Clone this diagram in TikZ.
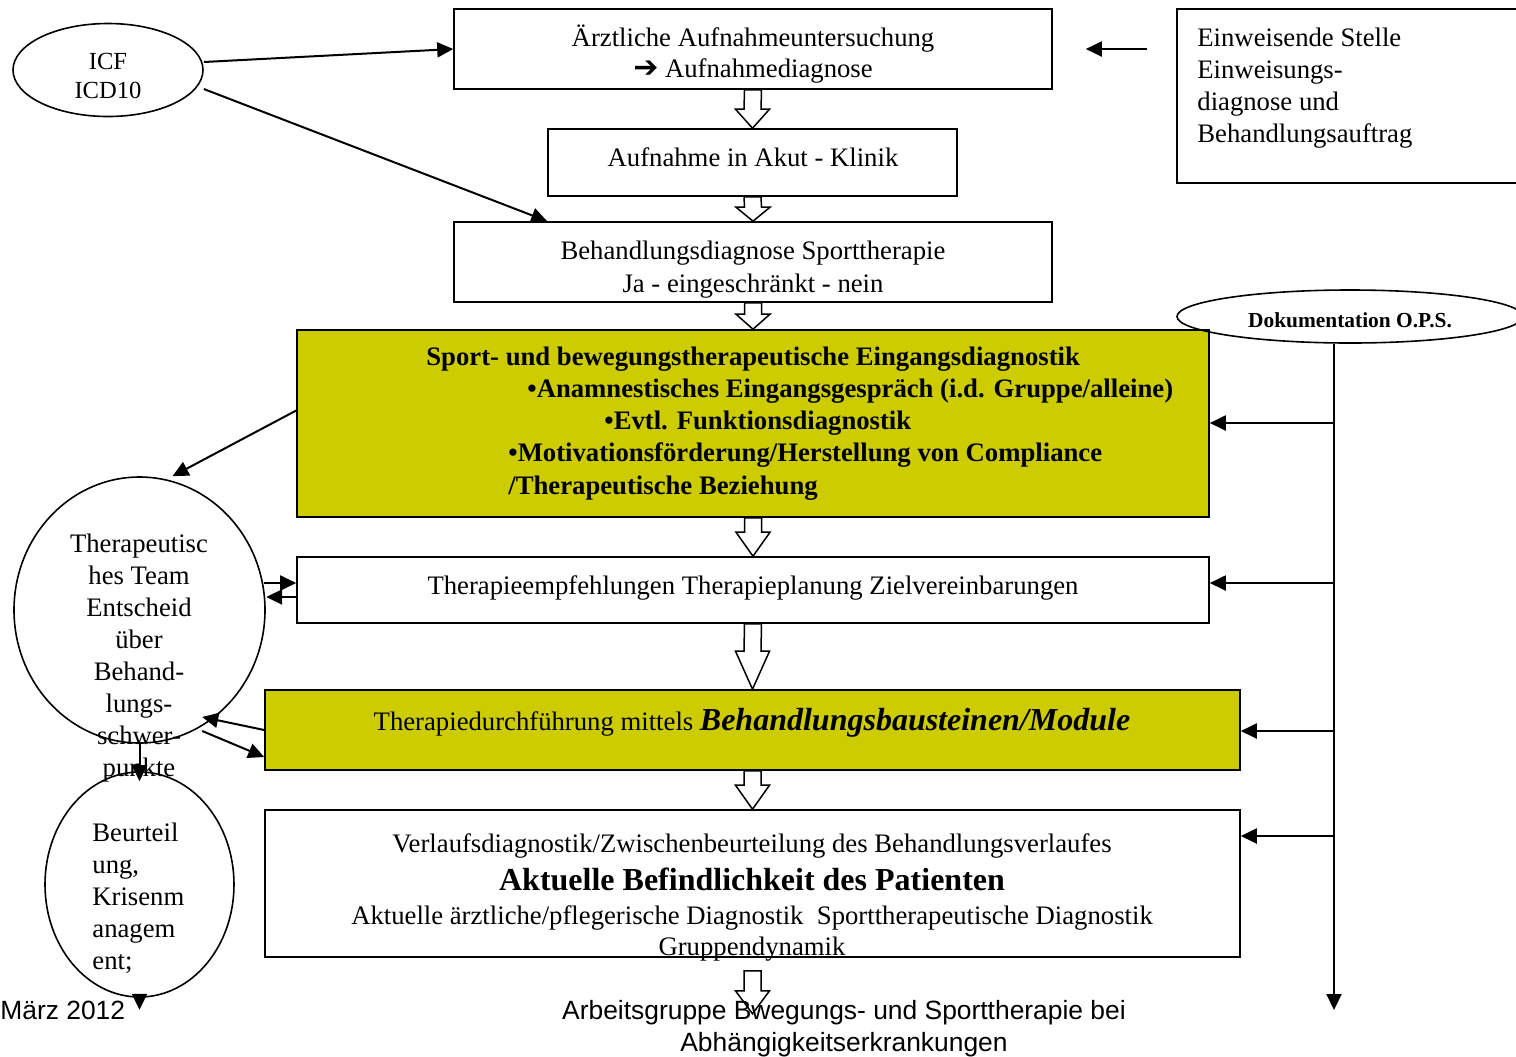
\documentclass[tikz,border=0pt]{standalone}
\usepackage{fontspec}
\setmainfont{Liberation Serif}
\setsansfont{Liberation Sans}
\newfontfamily\djv{DejaVu Sans}
\usetikzlibrary{shapes.geometric,arrows.meta,calc}
\definecolor{boxgreen}{RGB}{204,204,0}
\newcommand\blockarr[3]{%
  \draw[hollow] ($(#1)+(-8.5,0)$) -- ($(#2)+(-8.5,-#3)$) -- ($(#2)+(-17,-#3)$) -- (#2)
    -- ($(#2)+(17,-#3)$) -- ($(#2)+(8.5,-#3)$) -- ($(#1)+(8.5,0)$) -- cycle;}
\begin{document}
\begin{tikzpicture}[x=0.5pt,y=-0.5pt,
  box/.style={draw,line width=0.8pt,inner sep=0pt},
  gbox/.style={box,fill=boxgreen},
  ell/.style={draw,ellipse,line width=0.8pt,inner sep=0pt},
  txt/.style={inner sep=0pt,font=\fontsize{13.35}{16}\selectfont,align=center},
  gtxt/.style={inner sep=0pt,font=\fontsize{13.35}{16}\selectfont\bfseries,anchor=base west},
  sans/.style={inner sep=0pt,font=\sffamily\fontsize{13.2}{16}\selectfont},
  conn/.style={line width=1pt,-{Triangle[length=8pt,width=7.5pt]}},
  hollow/.style={draw,fill=white,line width=0.75pt,line join=miter}]
\useasboundingbox (0,0) rectangle (1516,1056);

% boxes
\node[box,minimum width=299pt,minimum height=40pt] (b1) at (753,49) {};
\node[box,minimum width=204.5pt,minimum height=33.5pt] (b2) at (752.5,162.5) {};
\node[box,minimum width=299pt,minimum height=40pt] (b3) at (753,262) {};
\node[gbox,minimum width=456pt,minimum height=93.5pt] (g1) at (753,423.5) {};
\node[box,minimum width=456pt,minimum height=33pt] (b5) at (753,590) {};
\node[gbox,minimum width=487.5pt,minimum height=40pt] (g2) at (752.5,730) {};
\node[box,minimum width=487.5pt,minimum height=73.5pt] (b7) at (752.5,883.5) {};
\node[box,minimum width=174pt,minimum height=87pt] (ein) at (1351,96) {};

% ellipses
\node[ell,minimum width=95pt,minimum height=46.5pt] (icf) at (108,70) {};
\node[ell,minimum width=125.5pt,minimum height=133pt] (team) at (139.5,610) {};
\node[ell,minimum width=94.5pt,minimum height=112.5pt] (beu) at (139.5,884.5) {};
\node[ell,minimum width=173pt,minimum height=26.5pt] (dok) at (1350,316.5) {};

% block arrows
\blockarr{b1.south}{b2.north}{19}
\blockarr{b2.south}{b3.north}{14}
\blockarr{b3.south}{g1.north}{15}
\blockarr{g1.south}{b5.north}{24}
\blockarr{b5.south}{g2.north}{38}
\blockarr{g2.south}{b7.north}{24}
\coordinate (btop) at ($(b7.south)+(0,13)$);
\coordinate (btip) at ($(b7.south)+(0,56)$);
\blockarr{btop}{btip}{23}

% connectors
\draw[conn] ($(icf.east)+(0,-8)$) -- (b1.west);
\draw[conn] ($(icf.east)+(0,19)$) -- ($(b3.north west)+(94,0)$);
\coordinate (e1) at ($(b1.east)+(94,0)$);
\coordinate (e2) at ($(b1.east)+(33,0)$);
\draw[conn] (e1) -- (e2);
\draw[conn] ($(g1.west)+(0,-13)$) -- ($(team.north)+(33,0)$);
\draw[conn] ($(b5.west)+(-32,-7)$) -- ($(b5.west)+(0,-7)$);
\draw[conn] ($(b5.west)+(0,7)$) -- ($(b5.west)+(-30,7)$);
\draw[conn] (g2.west) -- ($(g2.west)+(-62,-13)$);
\draw[conn] ($(g2.west)+(-62,1)$) -- ($(g2.west)+(0,27)$);
\draw[conn] (team.south) -- ($(beu.north)+(0,10)$);
\draw[conn] (beu.south) -- ++(0,12);

\coordinate (dtop) at ($(dok.south)+(-16,0)$);
\coordinate (dbot) at (1334,1010);
\draw[conn] (dtop) -- (dbot);
\coordinate (d1) at (1334,423);
\coordinate (d2) at (1334,583);
\coordinate (d3) at (1334,731);
\coordinate (d4) at (1334,836);
\draw[conn] (d1) -- (g1.east |- d1);
\draw[conn] (d2) -- (b5.east |- d2);
\draw[conn] (d3) -- (g2.east |- d3);
\draw[conn] (d4) -- (b7.east |- d4);

% texts
\node[inner sep=0pt,font=\fontsize{12.3}{14.5}\selectfont,anchor=base] (ti1) at (108,69) {ICF};
\node[inner sep=0pt,font=\fontsize{12.3}{14.5}\selectfont,anchor=base] (ti2) at (108,98) {ICD10};

\node[txt,anchor=base] (t1a) at (753,46) {Ärztliche Aufnahmeuntersuchung};
\node[txt,anchor=base] (t1b) at (753,77) {{\djv\bfseries\fontsize{15}{16}\selectfont ➔} Aufnahmediagnose};
\node[txt,anchor=base] (t2) at (753,166) {Aufnahme in Akut - Klinik};
\node[txt,anchor=base] (t3a) at (753,259) {Behandlungsdiagnose Sporttherapie};
\node[txt,anchor=base] (t3b) at (753,292) {Ja - eingeschränkt - nein};

\node[gtxt] (g1a) at (426,365) {Sport- und bewegungstherapeutische Eingangsdiagnostik};
\node[gtxt] (g1b) at (527,397) {•Anamnestisches Eingangsgespräch (i.d. Gruppe/alleine)};
\node[gtxt] (g1c) at (604,429) {•Evtl. Funktionsdiagnostik};
\node[gtxt] (g1d) at (508,461) {•Motivationsförderung/Herstellung von Compliance};
\node[gtxt] (g1e) at (508,494) {/Therapeutische Beziehung};

\node[txt,anchor=base] (t5) at (753,594) {Therapieempfehlungen Therapieplanung Zielvereinbarungen};
\node[txt,anchor=base] (t6) at (752,730) {Therapiedurchführung mittels {\bfseries\itshape\fontsize{16}{18}\selectfont Behandlungsbausteinen/Module}};
\node[txt,anchor=base] (t7a) at (752,852) {Verlaufsdiagnostik/Zwischenbeurteilung des Behandlungsverlaufes};
\node[txt,anchor=base,font=\fontsize{16}{18}\selectfont\bfseries] (t7b) at (752,890) {Aktuelle Befindlichkeit des Patienten};
\node[txt,anchor=base] (t7c) at (752,924) {Aktuelle ärztliche/pflegerische Diagnostik~ Sporttherapeutische Diagnostik};
\node[txt,anchor=base] (t7d) at (752,955) {Gruppendynamik};

\node[txt,anchor=base west] (te1) at (1197,46) {Einweisende Stelle};
\node[txt,anchor=base west] (te2) at (1197,78) {Einweisungs-};
\node[txt,anchor=base west] (te3) at (1197,110) {diagnose und};
\node[txt,anchor=base west] (te4) at (1197,142) {Behandlungsauftrag};

\node[inner sep=0pt,font=\fontsize{10.7}{12}\selectfont\bfseries,anchor=base] (tdok) at (1350,327) {Dokumentation O.P.S.};

\node[txt,anchor=base] (tm1) at (139,552) {Therapeutisc};
\node[txt,anchor=base] (tm2) at (139,584) {hes Team};
\node[txt,anchor=base] (tm3) at (139,616) {Entscheid};
\node[txt,anchor=base] (tm4) at (139,648) {über};
\node[txt,anchor=base] (tm5) at (139,680) {Behand-};
\node[txt,anchor=base] (tm6) at (139,712) {lungs-};
\node[txt,anchor=base] (tm7) at (139,744) {schwer-};
\node[txt,anchor=base] (tm8) at (139,776) {punkte};

\node[txt,anchor=base west] (tb1) at (92,841) {Beurteil};
\node[txt,anchor=base west] (tb2) at (92,873) {ung,};
\node[txt,anchor=base west] (tb3) at (92,905) {Krisenm};
\node[txt,anchor=base west] (tb4) at (92,937) {anagem};
\node[txt,anchor=base west] (tb5) at (92,969) {ent;};

\node[sans,anchor=base west] (date) at (0,1019) {März 2012};
\node[sans,anchor=base] (ag1) at (844,1019) {Arbeitsgruppe Bwegungs- und Sporttherapie bei};
\node[sans,anchor=base] (ag2) at (844,1051) {Abhängigkeitserkrankungen};
\end{tikzpicture}
\end{document}
